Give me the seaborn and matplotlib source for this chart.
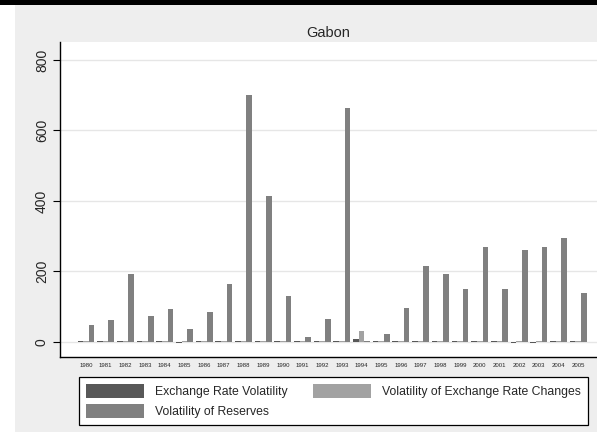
#!/usr/bin/env python3
"""Gabon: exchange rate volatility vs. reserves volatility, 1980-2005."""
import matplotlib
matplotlib.use("Agg")
import matplotlib.pyplot as plt
import numpy as np
import pandas as pd
import seaborn as sns
from matplotlib.patches import Rectangle

# ---- data ----
years = list(range(1980, 2006))
exch_rate_vol = [2, 2, 2, 2, 2, -2, 2, 2, 2, 2, 2, 3, 2,
                 2, 8, 2, 2, 2, 2, 2, 2, 2, -2, -2, 2, 2]
exch_change_vol = [1, 1, 1, 1, 1, 1, 1, 1, 1, 1, 1, 1, 1,
                   1, 30, 1, 1, 1, 1, 1, 1, 1, 1, 1, 1, 1]
reserves_vol = [48, 62, 193, 72, 94, 36, 85, 165, 700, 414, 130, 14, 65,
                664, 2, 23, 96, 215, 193, 149, 270, 149, 262, 270, 295, 139]
series_names = ["Exchange Rate Volatility",
                "Volatility of Exchange Rate Changes",
                "Volatility of Reserves"]
series_colors = ["#585858", "#a2a2a2", "#808080"]
y_ticks = [0, 200, 400, 600, 800]

df = pd.concat([
    pd.DataFrame({"year": [str(y) for y in years], "value": vals, "series": name})
    for name, vals in zip(series_names, [exch_rate_vol, exch_change_vol, reserves_vol])
], ignore_index=True)

sns.set_style("white")
plt.rcParams["font.family"] = ["Liberation Sans", "DejaVu Sans"]

W, H = 597, 437
fig = plt.figure(figsize=(W / 100, H / 100), dpi=100, facecolor="white")

# Stata-like grey backdrop and top black strip (drawn in a background axes)
bg = fig.add_axes([0, 0, 1, 1], zorder=-10)
bg.set_xlim(0, W)
bg.set_ylim(H, 0)
bg.axis("off")
bg.add_patch(Rectangle((15, 5), W - 15, H - 10, color="#eeeeee", lw=0))
bg.add_patch(Rectangle((0, 0), W, 5, color="black", lw=0))

ax = fig.add_axes([60 / W, 1 - 357 / H, (W - 60) / W, (357 - 42) / H], zorder=1)
ax.set_facecolor("white")

sns.barplot(data=df, x="year", y="value", hue="series", hue_order=series_names,
            palette=series_colors, width=0.86, saturation=1, ax=ax,
            linewidth=0, errorbar=None, legend=True)

ax.set_ylim(-43, 851)
ax.set_xlim(-1.32, 25.96)
ax.set_yticks(y_ticks)
ax.set_yticklabels([str(t) for t in y_ticks], rotation=90, va="center", fontsize=10)
ax.yaxis.grid(True, color="#e6e6e6", linewidth=1)
ax.set_axisbelow(True)
ax.tick_params(axis="y", length=5, width=0.8, pad=3, left=True, color="black")
ax.tick_params(axis="x", length=0, pad=4, labelsize=4.3)
for side in ("top", "right"):
    ax.spines[side].set_visible(False)
for side in ("left", "bottom"):
    ax.spines[side].set_color("black")
    ax.spines[side].set_linewidth(1)
ax.set_xlabel("")
ax.set_ylabel("")

fig.text((60 + W) / 2 / W, 1 - 33 / H, "Gabon", ha="center", va="center", fontsize=10.5)

handles, labels = ax.get_legend_handles_labels()
ax.get_legend().remove()
order = [0, 2, 1]  # fill legend row by row
leg = fig.legend([handles[i] for i in order], [labels[i] for i in order],
                 ncol=2, loc="upper left", bbox_to_anchor=(79 / W, 1 - 377 / H),
                 fontsize=8.8, frameon=True, fancybox=False,
                 edgecolor="black", facecolor="white", framealpha=1,
                 handlelength=4.75, handleheight=1.35, handletextpad=0.9,
                 columnspacing=2.1, labelspacing=0.5, borderpad=0.58,
                 borderaxespad=0)
leg.get_frame().set_linewidth(0.9)

fig.savefig("out.png", dpi=100, facecolor="white")
